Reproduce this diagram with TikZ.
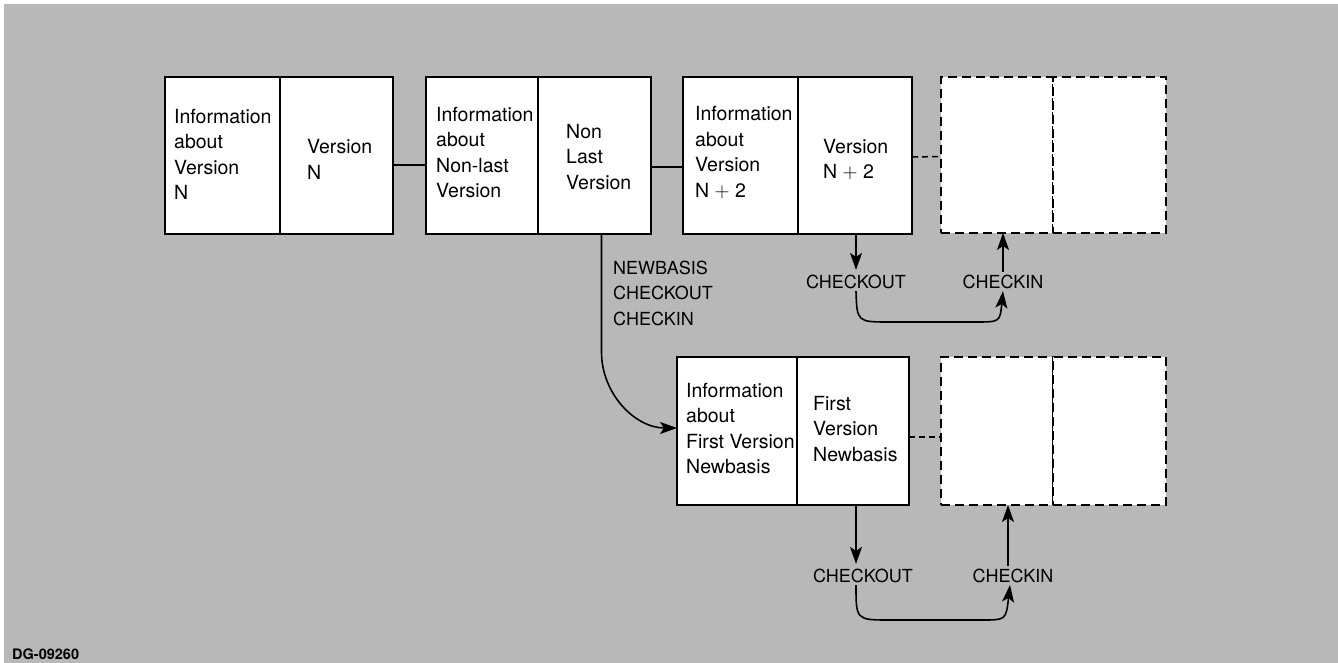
\documentclass[tikz,border=0pt]{standalone}
\usepackage{fontspec}
\setmainfont{TeX Gyre Heros}
\usetikzlibrary{arrows.meta}
\definecolor{paper}{RGB}{184,184,184}

\begin{document}
\begin{tikzpicture}[x=1pt,y=-1pt,
  cell/.style={draw, line width=2.6pt, fill=white, inner sep=0pt, outer sep=0pt},
  ghost/.style={cell, dash pattern=on 9pt off 5pt},
  txt/.style={anchor=west, align=left, inner sep=0pt,
    font=\fontsize{19.5}{25.5}\selectfont},
  lbl/.style={inner sep=1pt, font=\fontsize{18}{25.5}\selectfont},
  link/.style={line width=1.6pt},
  dlink/.style={line width=1.5pt, dash pattern=on 6pt off 4pt},
  arr/.style={line width=1.6pt, -{Stealth[length=17pt,width=12pt,inset=4pt]}}]

% sheet
\useasboundingbox (0,0) rectangle (1338,663);
\fill[white] (0,0) rectangle (1338,663);
\fill[paper] (4,4) rectangle (1338,663);

% upper chain of records
\node[cell, minimum width=115pt, minimum height=157pt] (b1l) at (222.5,155.5) {};
\node[cell, minimum width=113pt, minimum height=157pt] (b1r) at (336.5,155.5) {};
\node[cell, minimum width=112pt, minimum height=157pt] (b2l) at (482,155.5) {};
\node[cell, minimum width=113pt, minimum height=157pt] (b2r) at (594.5,155.5) {};
\node[cell, minimum width=115pt, minimum height=157pt] (b3l) at (740.5,155.5) {};
\node[cell, minimum width=114pt, minimum height=157pt] (b3r) at (855,155.5) {};
\node[ghost, minimum width=112pt, minimum height=156pt] (b4l) at (997,155) {};
\node[ghost, minimum width=113pt, minimum height=156pt] (b4r) at (1109.5,155) {};

% lower chain of records
\node[cell, minimum width=120pt, minimum height=148pt] (b5l) at (737,431) {};
\node[cell, minimum width=112pt, minimum height=148pt] (b5r) at (853,431) {};
\node[ghost, minimum width=112pt, minimum height=148pt] (b6l) at (997,431) {};
\node[ghost, minimum width=113pt, minimum height=148pt] (b6r) at (1109.5,431) {};

% cell texts
\node[txt] (t1l) at (174,154.5) {Information\\about\\Version\\N};
\node[txt] (t1r) at (307,159.5) {Version\\N};
\node[txt] (t2l) at (436,152.5) {Information\\about\\Non-last\\Version};
\node[txt] (t2r) at (566,157) {Non\\Last\\Version};
\node[txt] (t3l) at (695,152.5) {Information\\about\\Version\\N $+$ 2};
\node[txt] (t3r) at (823,159.5) {Version\\N $+$ 2};
\node[txt] (t5l) at (686,428.5) {Information\\about\\First Version\\Newbasis};
\node[txt] (t5r) at (813,429) {First\\Version\\Newbasis};

% links between records
\draw[link] ([yshift=-9.5pt]b1r.east) -- ([yshift=-9.5pt]b2l.west);
\draw[link] ([yshift=-11.5pt]b2r.east) -- ([yshift=-11.5pt]b3l.west);
\draw[dlink] ([yshift=-1.5pt]b3r.east) -- ([yshift=-1.5pt]b4l.west);
\draw[dlink] ([yshift=-6pt]b5r.east) -- ([yshift=-6pt]b6l.west);

% operations
\node[lbl, anchor=west, align=left] (nb) at (612,293) {NEWBASIS\\CHECKOUT\\CHECKIN};
\node[lbl] (co1) at (856,282) {CHECKOUT};
\node[lbl] (ci1) at (1003,282) {CHECKIN};
\node[lbl] (co2) at (863,576) {CHECKOUT};
\node[lbl] (ci2) at (1013,576) {CHECKIN};

% new basis branch
\draw[arr] ([xshift=7pt]b2r.south) -- ([xshift=7pt]b2r.south |- 0,352)
  to[out=-90, in=180] ([yshift=3pt]b5l.west);

% checkout / checkin on the upper chain
\draw[arr] (co1.north |- b3r.south) -- ([yshift=4pt]co1.north);
\draw[arr] ([yshift=2pt]ci1.north) -- (ci1.north |- b4l.south);
\draw[arr] ([yshift=-1pt]co1.south) .. controls (857,322) .. (890,322) -- (975,322)
  .. controls (1000,322) .. ([yshift=-1pt]ci1.south);

% checkout / checkin on the lower chain
\draw[arr] ([xshift=-7pt]co2.north |- b5r.south) -- ([xshift=-7pt,yshift=4pt]co2.north);
\draw[arr] ([xshift=-5pt,yshift=2pt]ci2.north) -- ([xshift=-5pt]ci2.north |- b6l.south);
\draw[arr] ([xshift=-7pt,yshift=-1pt]co2.south) .. controls (856,620) .. (890,620) -- (982,620)
  .. controls (1006,620) .. ([xshift=-3pt,yshift=-1pt]ci2.south);

% drawing number
\node[anchor=west, inner sep=0pt, font=\fontsize{14.5}{16}\selectfont\bfseries] (dg) at (12,654) {DG-09260};
\end{tikzpicture}
\end{document}
